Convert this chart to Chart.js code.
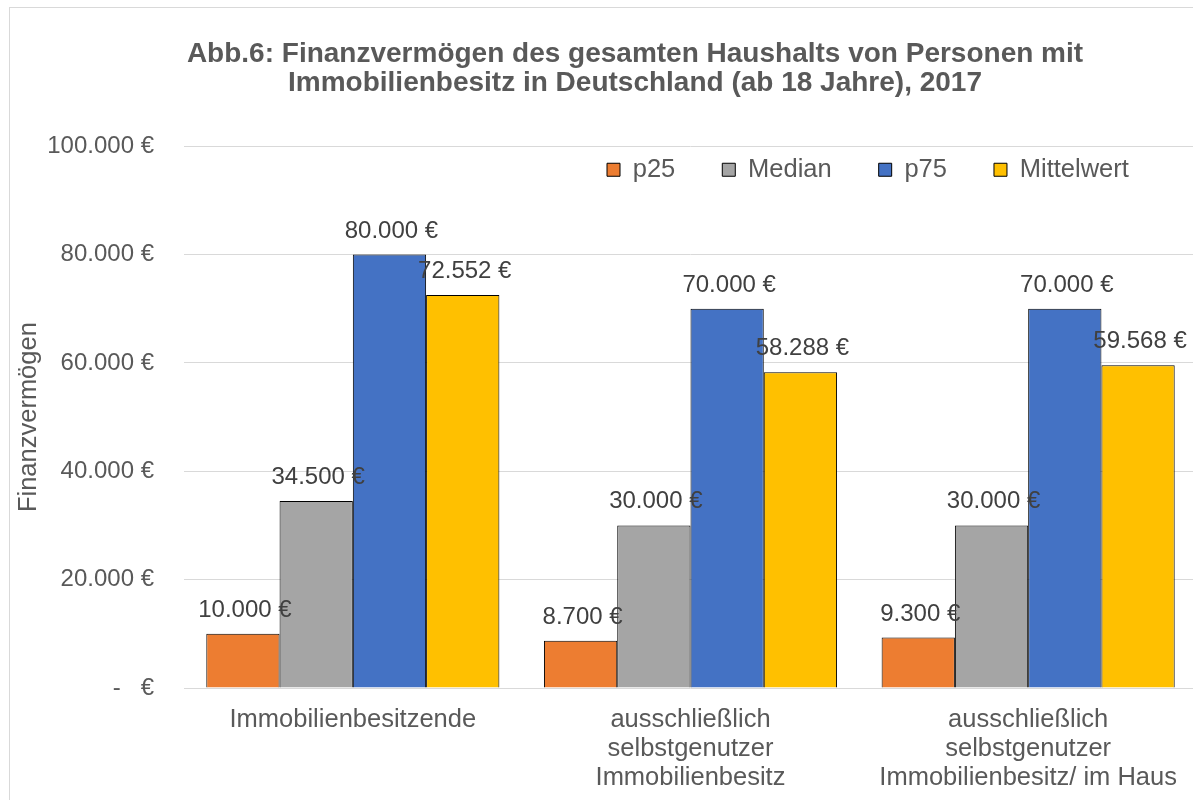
<!DOCTYPE html>
<html>
<head>
<meta charset="utf-8">
<script src="https://cdn.jsdelivr.net/npm/chart.js@4"></script>
<style>
  html, body { margin: 0; padding: 0; background: #fff; overflow: hidden; }
  #frame { position: absolute; left: 9px; top: 7px; width: 1400px; height: 900px;
           border-left: 1px solid #d9d9d9; border-top: 1px solid #d9d9d9; }
  #wrap { position: absolute; left: 0; top: 0; width: 1270px; height: 800px; }
</style>
</head>
<body>
<div id="frame"></div>
<div id="wrap"><canvas id="finChart" width="1270" height="800"></canvas></div>
<script>
// Werte aus Abb.6 (Finanzvermögen, Haushalte mit Immobilienbesitz, 2017)
const categories = [
  'Immobilienbesitzende',
  ['ausschließlich', 'selbstgenutzer', 'Immobilienbesitz'],
  ['ausschließlich', 'selbstgenutzer', 'Immobilienbesitz/ im Haus']
];
const p25 = [10000, 8700, 9300];
const median = [34500, 30000, 30000];
const p75 = [80000, 70000, 70000];
const mittelwert = [72552, 58288, 59568];
const yTicks = [0, 20000, 40000, 60000, 80000, 100000];

const fontFam = '"Liberation Sans", Arial, sans-serif';
const textCol = '#595959';

const fmt = v => String(v).replace(/\B(?=(\d{3})+(?!\d))/g, '.');

// Datenbeschriftungen über den Balken
const valueLabels = {
  id: 'valueLabels',
  afterDatasetsDraw(chart) {
    const ctx = chart.ctx;
    ctx.save();
    ctx.font = '24px ' + fontFam;
    ctx.fillStyle = '#404040';
    ctx.textAlign = 'center';
    ctx.textBaseline = 'alphabetic';
    chart.data.datasets.forEach((ds, i) => {
      chart.getDatasetMeta(i).data.forEach((bar, j) => {
        ctx.fillText(fmt(ds.data[j]) + ' €', bar.x + 2, bar.y - 17);
      });
    });
    ctx.restore();
  }
};

// Legende liegt in der Zeichenfläche, rechts oben
const legendPlace = {
  id: 'legendPlace',
  afterLayout(chart) {
    const lg = chart.legend;
    lg.left = 560;
    lg.top = 110;
    lg.right = chart.width;
    lg.bottom = 210;
    lg.width = lg.right - lg.left;
    lg.height = lg.bottom - lg.top;
  }
};

new Chart(document.getElementById('finChart'), {
  type: 'bar',
  data: {
    labels: categories,
    datasets: [
      { label: 'p25', data: p25, backgroundColor: '#ED7D31' },
      { label: 'Median', data: median, backgroundColor: '#A5A5A5' },
      { label: 'p75', data: p75, backgroundColor: '#4472C4' },
      { label: 'Mittelwert', data: mittelwert, backgroundColor: '#FFC000' }
    ].map(d => Object.assign(d, { borderColor: '#000', borderWidth: 1 }))
  },
  options: {
    responsive: false,
    animation: false,
    categoryPercentage: 0.868,
    barPercentage: 1,
    layout: { padding: 0 },
    plugins: {
      title: {
        display: true,
        text: ['Abb.6: Finanzvermögen des gesamten Haushalts von Personen mit',
               'Immobilienbesitz in Deutschland (ab 18 Jahre), 2017'],
        color: textCol,
        font: { family: fontFam, size: 28, weight: 'bold', lineHeight: 1.04 },
        padding: { top: 40, bottom: 47 }
      },
      legend: {
        position: 'top',
        align: 'start',
        maxHeight: 1,
        labels: {
          color: textCol,
          font: { family: fontFam, size: 25.5 },
          boxWidth: 13,
          boxHeight: 13,
          padding: 47
        }
      },
      tooltip: { enabled: false }
    },
    scales: {
      x: {
        grid: { display: false },
        border: { display: false },
        ticks: {
          color: textCol,
          font: { family: fontFam, size: 25.5, lineHeight: 1.14 },
          padding: 9,
          maxRotation: 0,
          autoSkip: false
        },
        afterFit(scale) { scale.height = 112; }
      },
      y: {
        min: 0,
        max: 100000,
        afterBuildTicks(scale) { scale.ticks = yTicks.map(v => ({ value: v })); },
        grid: { color: '#d9d9d9', lineWidth: 1, drawTicks: false },
        border: { display: false },
        ticks: {
          color: textCol,
          font: { family: fontFam, size: 24 },
          padding: 30,
          callback: v => v === 0 ? '-   €' : fmt(v) + ' €'
        },
        title: {
          display: true,
          text: 'Finanzvermögen',
          color: textCol,
          font: { family: fontFam, size: 25.5 },
          padding: { top: 14, bottom: 0 }
        },
        afterFit(scale) { scale.width = 184; }
      },
      // rechter Rand der Diagrammfläche (außerhalb des Bildausschnitts)
      yRand: {
        type: 'linear',
        position: 'right',
        grid: { display: false, drawTicks: false },
        border: { display: false },
        ticks: { display: false },
        afterFit(scale) { scale.width = 73; }
      }
    }
  },
  plugins: [valueLabels, legendPlace]
});
</script>
</body>
</html>
